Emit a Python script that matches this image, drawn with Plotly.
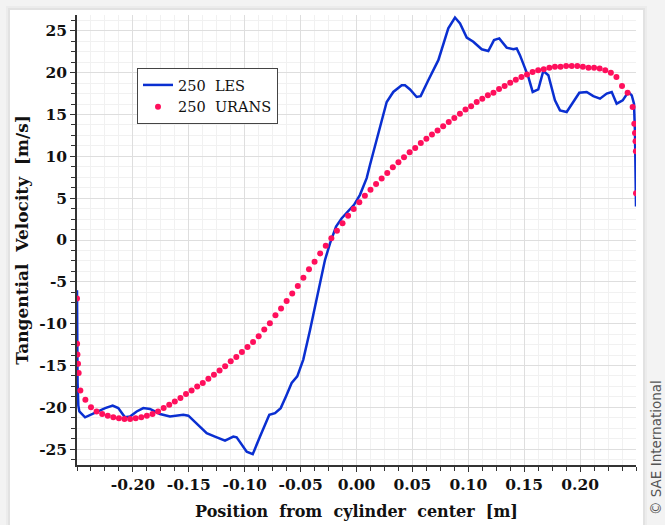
import plotly.graph_objects as go

# ---------------- data ----------------
les_x = [-0.2500, -0.2499, -0.2495, -0.2488, -0.2479, -0.2428, -0.2379, -0.2308, -0.2248, -0.2181,
         -0.2131, -0.2071, -0.2026, -0.1966, -0.1907, -0.1847, -0.1758, -0.1668, -0.1549, -0.1504,
         -0.1415, -0.1340, -0.1266, -0.1176, -0.1102, -0.1072, -0.0982, -0.0928, -0.0863, -0.0780,
         -0.0729, -0.0678, -0.0631, -0.0580, -0.0530, -0.0476, -0.0416, -0.0365, -0.0326, -0.0282,
         -0.0237, -0.0183, -0.0132, -0.0073, -0.0022, 0.0031, 0.0091, 0.0121, 0.0157, 0.0195,
         0.0270, 0.0329, 0.0404, 0.0434, 0.0479, 0.0538, 0.0574, 0.0642, 0.0732, 0.0821,
         0.0881, 0.0926, 0.0986, 0.1045, 0.1120, 0.1179, 0.1230, 0.1277, 0.1343, 0.1403,
         0.1433, 0.1462, 0.1492, 0.1537, 0.1576, 0.1626, 0.1671, 0.1716, 0.1775, 0.1820,
         0.1880, 0.1939, 0.1993, 0.2059, 0.2118, 0.2178, 0.2238, 0.2283, 0.2327, 0.2381,
         0.2431, 0.2462, 0.2482, 0.2491, 0.2500]
les_y = [-6.0, -12.0, -17.0, -19.8, -20.5, -21.2, -20.9, -20.5, -20.1, -19.8,
         -20.1, -21.2, -21.1, -20.5, -20.1, -20.2, -20.8, -21.1, -20.9, -21.0,
         -22.1, -23.1, -23.5, -24.0, -23.5, -23.6, -25.3, -25.6, -23.5, -20.9,
         -20.7, -20.1, -18.7, -17.1, -16.3, -14.3, -10.8, -7.6, -4.8, -2.4,
         -0.4, 1.6, 2.6, 3.5, 4.2, 5.4, 7.4, 9.0, 10.8, 12.4,
         16.5, 17.7, 18.5, 18.5, 18.0, 17.1, 17.2, 19.1, 21.5, 25.3,
         26.6, 25.9, 24.2, 23.7, 22.8, 22.6, 23.9, 24.1, 23.0, 22.8,
         22.9, 22.1, 21.1, 19.5, 17.7, 18.0, 20.2, 19.7, 16.7, 15.5,
         15.3, 16.5, 17.6, 17.7, 17.2, 16.9, 17.5, 17.7, 16.3, 16.7,
         17.7, 17.3, 16.3, 12.8, 4.0]

urans_x = [-0.2500, -0.2499, -0.2496, -0.2491, -0.2485, -0.2470, -0.2425,
           -0.2375, -0.2325, -0.2275, -0.2225, -0.2175, -0.2125, -0.2075, -0.2025, -0.1975, -0.1925,
           -0.1875, -0.1825, -0.1775, -0.1725, -0.1675, -0.1625, -0.1575, -0.1525, -0.1475, -0.1425,
           -0.1375, -0.1325, -0.1275, -0.1225, -0.1175, -0.1125, -0.1075, -0.1025, -0.0975, -0.0925,
           -0.0875, -0.0825, -0.0775, -0.0725, -0.0675, -0.0625, -0.0575, -0.0525, -0.0475, -0.0425,
           -0.0375, -0.0325, -0.0275, -0.0225, -0.0175, -0.0125, -0.0075, -0.0025, 0.0025, 0.0075,
           0.0125, 0.0175, 0.0225, 0.0275, 0.0325, 0.0375, 0.0425, 0.0475, 0.0525, 0.0575,
           0.0625, 0.0675, 0.0725, 0.0775, 0.0825, 0.0875, 0.0925, 0.0975, 0.1025, 0.1075,
           0.1125, 0.1175, 0.1225, 0.1275, 0.1325, 0.1375, 0.1425, 0.1475, 0.1525, 0.1575,
           0.1625, 0.1675, 0.1725, 0.1775, 0.1825, 0.1875, 0.1925, 0.1975, 0.2025, 0.2075,
           0.2125, 0.2175, 0.2225, 0.2275, 0.2325, 0.2375, 0.2425,
           0.2470, 0.2485, 0.2491, 0.2496, 0.2499, 0.2500]
urans_y = [-7.0, -12.4, -13.7, -14.8, -15.9, -18.0, -19.1,
           -20.0, -20.5, -20.8, -21.0, -21.2, -21.3, -21.4, -21.4, -21.3, -21.2,
           -21.0, -20.8, -20.5, -20.1, -19.7, -19.3, -18.9, -18.4, -18.0, -17.5,
           -17.1, -16.6, -16.1, -15.6, -15.1, -14.5, -14.0, -13.4, -12.8, -12.2,
           -11.5, -10.7, -9.95, -9.0, -8.2, -7.3, -6.4, -5.5, -4.5, -3.5,
           -2.6, -1.6, -0.7, 0.2, 1.1, 2.0, 2.9, 3.7, 4.5, 5.3,
           6.0, 6.7, 7.35, 8.0, 8.7, 9.3, 9.9, 10.5, 11.0, 11.6,
           12.1, 12.6, 13.1, 13.6, 14.1, 14.6, 15.1, 15.6, 16.0, 16.5,
           16.9, 17.3, 17.6, 18.05, 18.4, 18.8, 19.15, 19.5, 19.8, 20.1,
           20.3, 20.4, 20.6, 20.7, 20.7, 20.8, 20.8, 20.8, 20.7, 20.6,
           20.6, 20.5, 20.3, 20.0, 19.5, 18.4, 17.6,
           15.9, 13.9, 12.8, 11.8, 10.6, 5.6]

x_tickvals = [-0.20, -0.15, -0.10, -0.05, 0.00, 0.05, 0.10, 0.15, 0.20]
x_ticktext = ["-0.20", "-0.15", "-0.10", "-0.05", "0.00", "0.05", "0.10", "0.15", "0.20"]
y_tickvals = [-25, -20, -15, -10, -5, 0, 5, 10, 15, 20, 25]
y_ticktext = ["-25", "-20", "-15", "-10", "-5", "0", "5", "10", "15", "20", "25"]

series_names = ["250\u00a0 LES", "250\u00a0 URANS"]
x_title = "Position\u00a0 from\u00a0 cylinder\u00a0 center\u00a0 [m]"
y_title = "Tangential\u00a0 Velocity\u00a0 [m/s]"
credit = "\u00a9 SAE International"

# ---------------- figure ----------------
W, H = 665, 525
ML, MR, MT, MB = 77, 29, 15, 60
PW, PH = W - ML - MR, H - MT - MB

def px_to_paper_x(p):
    return (p - ML) / PW

def px_to_paper_y(p):
    return (H - MB - p) / PH

serif_bold = dict(family="DejaVu Serif", size=15.5, color="#111", weight="bold")
title_font = dict(family="DejaVu Serif", size=16, color="#111", weight="bold")
ytitle_font = dict(family="DejaVu Serif", size=17, color="#111", weight="bold")

fig = go.Figure()
fig.add_trace(go.Scatter(x=les_x, y=les_y, mode="lines", name=series_names[0],
                         line=dict(color="#0a2fd1", width=2.5)))
fig.add_trace(go.Scatter(x=urans_x, y=urans_y, mode="markers", name=series_names[1],
                         marker=dict(color="#ff0f5c", size=6, line=dict(width=0))))

shapes = []
# page background card with a soft shadow
for grow, col in [(4, "#ececec"), (2, "#e2e2e2")]:
    shapes.append(dict(type="rect", xref="paper", yref="paper", layer="below",
                       x0=px_to_paper_x(10 - grow), x1=px_to_paper_x(643 + grow),
                       y0=px_to_paper_y(540), y1=px_to_paper_y(10 - grow),
                       fillcolor=col, line=dict(width=0)))
shapes.append(dict(type="rect", xref="paper", yref="paper", layer="below",
                   x0=px_to_paper_x(10), x1=px_to_paper_x(643),
                   y0=px_to_paper_y(540), y1=px_to_paper_y(10),
                   fillcolor="white", line=dict(width=0)))

fig.update_layout(
    width=W, height=H,
    margin=dict(l=ML, r=MR, t=MT, b=MB, pad=0),
    paper_bgcolor="#f3f3f3",
    plot_bgcolor="rgba(0,0,0,0)",
    shapes=shapes,
    showlegend=True,
    legend=dict(x=px_to_paper_x(137), y=px_to_paper_y(68), xanchor="left", yanchor="top",
                bgcolor="white", bordercolor="#444", borderwidth=1,
                font=dict(family="DejaVu Serif", size=14.5, color="#111"),
                itemwidth=30, tracegroupgap=0),
    xaxis=dict(range=[-0.25, 0.25], tickmode="array", tickvals=x_tickvals, ticktext=x_ticktext,
               ticks="outside", ticklen=5, tickwidth=1, tickcolor="#333",
               showline=True, linecolor="#333", linewidth=1.5, zeroline=False,
               showgrid=True, gridcolor="#dedede", gridwidth=1,
               tickfont=serif_bold,
               minor=dict(tickmode="linear", tick0=0, dtick=0.0125, ticks="outside", ticklen=4,
                          tickcolor="#333", showgrid=True, gridcolor="#f1f1f1", gridwidth=1),
               title=dict(text=x_title, font=title_font, standoff=12),
               automargin=False),
    yaxis=dict(range=[-26.9, 26.9], tickmode="array", tickvals=y_tickvals, ticktext=y_ticktext,
               ticks="outside", ticklen=5, tickwidth=1, tickcolor="#333",
               showline=True, linecolor="#333", linewidth=1.5, zeroline=False,
               showgrid=True, gridcolor="#dedede", gridwidth=1,
               tickfont=serif_bold,
               minor=dict(tickmode="linear", tick0=0, dtick=1.25, ticks="outside", ticklen=4,
                          tickcolor="#333", showgrid=True, gridcolor="#f1f1f1", gridwidth=1),
               title=dict(text=y_title, font=ytitle_font, standoff=6),
               automargin=False),
    annotations=[dict(text=credit, xref="paper", yref="paper",
                      x=px_to_paper_x(656), y=px_to_paper_y(448), xanchor="center", yanchor="middle",
                      textangle=-90, showarrow=False,
                      font=dict(family="DejaVu Sans", size=13.5, color="#555"))],
)

fig.write_html("out.html")
